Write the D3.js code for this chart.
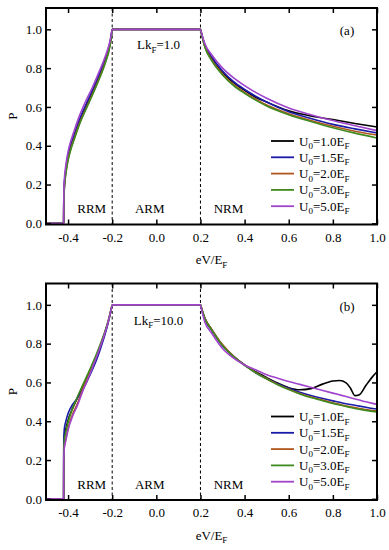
<!DOCTYPE html>
<html>
<head>
<meta charset="utf-8">
<script src="https://cdn.jsdelivr.net/npm/d3@7"></script>
<style>
  body { margin: 0; background: #fff; }
  svg { display: block; }
</style>
</head>
<body>
<div id="chart"></div>
<script>
// values
const u0Labels = ["1.0", "1.5", "2.0", "3.0", "5.0"];
const lineColors = ["#000000", "#1a1aa8", "#b0561e", "#3f8a1e", "#a044cc"];
const xTicks = [-0.4, -0.2, 0.0, 0.2, 0.4, 0.6, 0.8, 1.0];
const yTicks = [0.0, 0.2, 0.4, 0.6, 0.8, 1.0];
const regionNames = ["RRM", "ARM", "NRM"];
const regionX = [-0.293, -0.03, 0.327];
const boundaryX = [-0.2, 0.2];
const zeroX = [-0.5, -0.42];     // P = 0 below threshold
const plateauX = [-0.2, 0.2];    // P = 1 in ARM

// panel (a), Lk_F = 1.0
const riseXa = [-0.42, -0.4195, -0.417, -0.41, -0.40, -0.39, -0.37, -0.35, -0.32, -0.29, -0.26, -0.23, -0.21, -0.20];
const riseA = [
  [0, 0.10, 0.19, 0.27, 0.34, 0.385, 0.455, 0.52, 0.60, 0.675, 0.755, 0.845, 0.925, 1.0],
  [0, 0.11, 0.20, 0.28, 0.35, 0.395, 0.465, 0.53, 0.61, 0.685, 0.765, 0.85, 0.93, 1.0],
  [0, 0.09, 0.18, 0.26, 0.33, 0.375, 0.445, 0.51, 0.59, 0.665, 0.745, 0.835, 0.92, 1.0],
  [0, 0.09, 0.175, 0.255, 0.325, 0.37, 0.44, 0.505, 0.585, 0.66, 0.74, 0.83, 0.915, 1.0],
  [0, 0.12, 0.22, 0.30, 0.37, 0.415, 0.485, 0.55, 0.63, 0.70, 0.78, 0.865, 0.94, 1.0]
];
const decayXa = [0.2, 0.22, 0.25, 0.3, 0.35, 0.4, 0.45, 0.5, 0.6, 0.7, 0.8, 0.9, 1.0];
const decayA = [
  [1, 0.915, 0.85, 0.775, 0.725, 0.685, 0.65, 0.625, 0.58, 0.553, 0.535, 0.515, 0.497],
  [1, 0.92, 0.86, 0.785, 0.73, 0.69, 0.655, 0.625, 0.575, 0.54, 0.51, 0.487, 0.466],
  [1, 0.91, 0.845, 0.77, 0.715, 0.675, 0.64, 0.61, 0.565, 0.53, 0.5, 0.475, 0.455],
  [1, 0.908, 0.84, 0.765, 0.71, 0.67, 0.635, 0.605, 0.56, 0.525, 0.493, 0.465, 0.44],
  [1, 0.925, 0.87, 0.8, 0.75, 0.71, 0.675, 0.645, 0.595, 0.56, 0.53, 0.503, 0.478]
];

// panel (b), Lk_F = 10.0
const riseXb = [-0.42, -0.4195, -0.417, -0.41, -0.40, -0.38, -0.36, -0.33, -0.30, -0.27, -0.24, -0.22, -0.20];
const riseB = [
  [0, 0.26, 0.32, 0.36, 0.405, 0.465, 0.515, 0.59, 0.66, 0.74, 0.83, 0.905, 1.0],
  [0, 0.30, 0.36, 0.40, 0.44, 0.485, 0.515, 0.57, 0.64, 0.72, 0.82, 0.90, 1.0],
  [0, 0.20, 0.27, 0.31, 0.365, 0.435, 0.485, 0.575, 0.655, 0.74, 0.835, 0.908, 1.0],
  [0, 0.24, 0.30, 0.345, 0.395, 0.465, 0.52, 0.595, 0.67, 0.75, 0.84, 0.91, 1.0],
  [0, 0.20, 0.26, 0.30, 0.355, 0.425, 0.475, 0.565, 0.645, 0.735, 0.83, 0.905, 1.0]
];
const decayXb = [0.2, 0.22, 0.25, 0.3, 0.35, 0.4, 0.45, 0.5, 0.55, 0.6, 0.65, 0.7, 0.75, 0.8, 0.83, 0.86, 0.88, 0.9, 0.92, 0.95, 0.98, 1.0];
const decayB = [
  [1, 0.93, 0.875, 0.79, 0.735, 0.69, 0.655, 0.625, 0.597, 0.573, 0.562, 0.568, 0.59, 0.607, 0.61, 0.598, 0.57, 0.532, 0.537, 0.585, 0.63, 0.655],
  [1, 0.925, 0.87, 0.79, 0.735, 0.69, 0.65, 0.62, 0.593, 0.57, 0.55, 0.533, 0.518, 0.505, 0.498, 0.49, 0.486, 0.482, 0.478, 0.472, 0.466, 0.463],
  [1, 0.93, 0.875, 0.795, 0.735, 0.69, 0.652, 0.62, 0.59, 0.565, 0.543, 0.525, 0.51, 0.495, 0.487, 0.479, 0.474, 0.47, 0.466, 0.46, 0.455, 0.452],
  [1, 0.928, 0.872, 0.79, 0.733, 0.688, 0.65, 0.618, 0.588, 0.563, 0.541, 0.522, 0.507, 0.492, 0.484, 0.476, 0.471, 0.466, 0.462, 0.456, 0.451, 0.448],
  [1, 0.91, 0.855, 0.775, 0.725, 0.69, 0.665, 0.64, 0.622, 0.605, 0.59, 0.575, 0.56, 0.545, 0.536, 0.527, 0.521, 0.515, 0.509, 0.5, 0.492, 0.487]
];

const panels = [
  { tag: "(a)", lk: "1.0", top: 8, riseX: riseXa, rise: riseA, decayX: decayXa, decay: decayA },
  { tag: "(b)", lk: "10.0", top: 283.5, riseX: riseXb, rise: riseB, decayX: decayXb, decay: decayB }
];

const W = 389, H = 550;
const left = 46, right = 377, h = 216.5;
const font = "'Liberation Serif', 'Times New Roman', serif";

const svg = d3.select("#chart").append("svg")
  .attr("width", W).attr("height", H)
  .attr("font-family", font);

// text with subscripts: parts = [[string, isSub], ...]
function richText(sel, parts) {
  let shifted = false;
  parts.forEach(function (p) {
    const t = sel.append("tspan").text(p[0]);
    if (p[1] && !shifted) { t.attr("dy", 3.5).attr("font-size", 9); shifted = true; }
    else if (p[1]) { t.attr("font-size", 9); }
    else if (shifted) { t.attr("dy", -3.5); shifted = false; }
  });
}

const x = d3.scaleLinear().domain([-0.5, 1.0]).range([left, right]);
const y = d3.scaleLinear().domain([-0.006, 1.11]).range([h, 0]);
const line = d3.line().x(d => x(d[0])).y(d => y(d[1])).curve(d3.curveMonotoneX);

panels.forEach(function (p) {
  const g = svg.append("g").attr("transform", "translate(0," + p.top + ")");

  // dashed region boundaries
  g.selectAll(".bound").data(boundaryX).enter().append("line")
    .attr("x1", d => x(d)).attr("x2", d => x(d))
    .attr("y1", 0).attr("y2", h)
    .attr("stroke", "black").attr("stroke-width", 1)
    .attr("stroke-dasharray", "3,2.5");

  // curves, drawn piece by piece so the corners stay sharp
  p.rise.forEach(function (vals, i) {
    const pieces = [
      zeroX.map(v => [v, 0]),
      p.riseX.map((v, j) => [v, vals[j]]),
      plateauX.map(v => [v, 1]),
      p.decayX.map((v, j) => [v, p.decay[i][j]])
    ];
    pieces.forEach(function (pc) {
      g.append("path").datum(pc)
        .attr("d", line)
        .attr("fill", "none")
        .attr("stroke", lineColors[i])
        .attr("stroke-width", 1.6);
    });
  });

  // axes with inward ticks
  const fmt = d => d.toFixed(1);
  const bottom = g.append("g").attr("transform", "translate(0," + h + ")")
    .call(d3.axisBottom(x).tickValues(xTicks).tickSize(-5).tickSizeOuter(0).tickPadding(8).tickFormat(fmt));
  const top = g.append("g")
    .call(d3.axisTop(x).tickValues(xTicks).tickSize(-5).tickSizeOuter(0).tickFormat(""));
  const leftAx = g.append("g").attr("transform", "translate(" + left + ",0)")
    .call(d3.axisLeft(y).tickValues(yTicks).tickSize(-5).tickSizeOuter(0).tickPadding(4).tickFormat(fmt));
  const rightAx = g.append("g").attr("transform", "translate(" + right + ",0)")
    .call(d3.axisRight(y).tickValues(yTicks).tickSize(-5).tickSizeOuter(0).tickFormat(""));
  [bottom, top, leftAx, rightAx].forEach(function (a) {
    a.select(".domain").remove();
    a.attr("font-family", font).attr("font-size", 13);
    a.selectAll(".tick line").attr("stroke-width", 1.5);
    a.selectAll(".tick text").attr("fill", "black");
  });

  // frame
  g.append("rect")
    .attr("x", left).attr("y", 0)
    .attr("width", right - left).attr("height", h)
    .attr("fill", "none").attr("stroke", "black").attr("stroke-width", 2);

  // region names
  g.selectAll(".region").data(regionNames).enter().append("text")
    .attr("x", (d, i) => x(regionX[i])).attr("y", 205)
    .attr("text-anchor", "middle").attr("font-size", 13)
    .text(d => d);

  // Lk_F label
  const lk = g.append("text").attr("x", x(0.01)).attr("y", 41)
    .attr("text-anchor", "middle").attr("font-size", 13);
  richText(lk, [["Lk", false], ["F", true], ["=" + p.lk, false]]);

  g.append("text").attr("x", 347).attr("y", 27)
    .attr("text-anchor", "middle").attr("font-size", 13)
    .text(p.tag);

  // axis titles
  const xt = g.append("text").attr("x", (left + right) / 2).attr("y", 256)
    .attr("text-anchor", "middle").attr("font-size", 13);
  richText(xt, [["eV/E", false], ["F", true]]);

  g.append("text")
    .attr("transform", "translate(17," + (h / 2) + ") rotate(-90)")
    .attr("text-anchor", "middle").attr("font-size", 13)
    .text("P");

  // legend
  const leg = g.append("g");
  u0Labels.forEach(function (lab, i) {
    const cy = 133 + i * 16.3;
    leg.append("line")
      .attr("x1", 271).attr("x2", 294).attr("y1", cy).attr("y2", cy)
      .attr("stroke", lineColors[i]).attr("stroke-width", 1.8);
    const t = leg.append("text").attr("x", 299).attr("y", cy + 4.5).attr("font-size", 13);
    richText(t, [["U", false], ["0", true], ["=" + lab + "E", false], ["F", true]]);
  });
});
</script>
</body>
</html>
